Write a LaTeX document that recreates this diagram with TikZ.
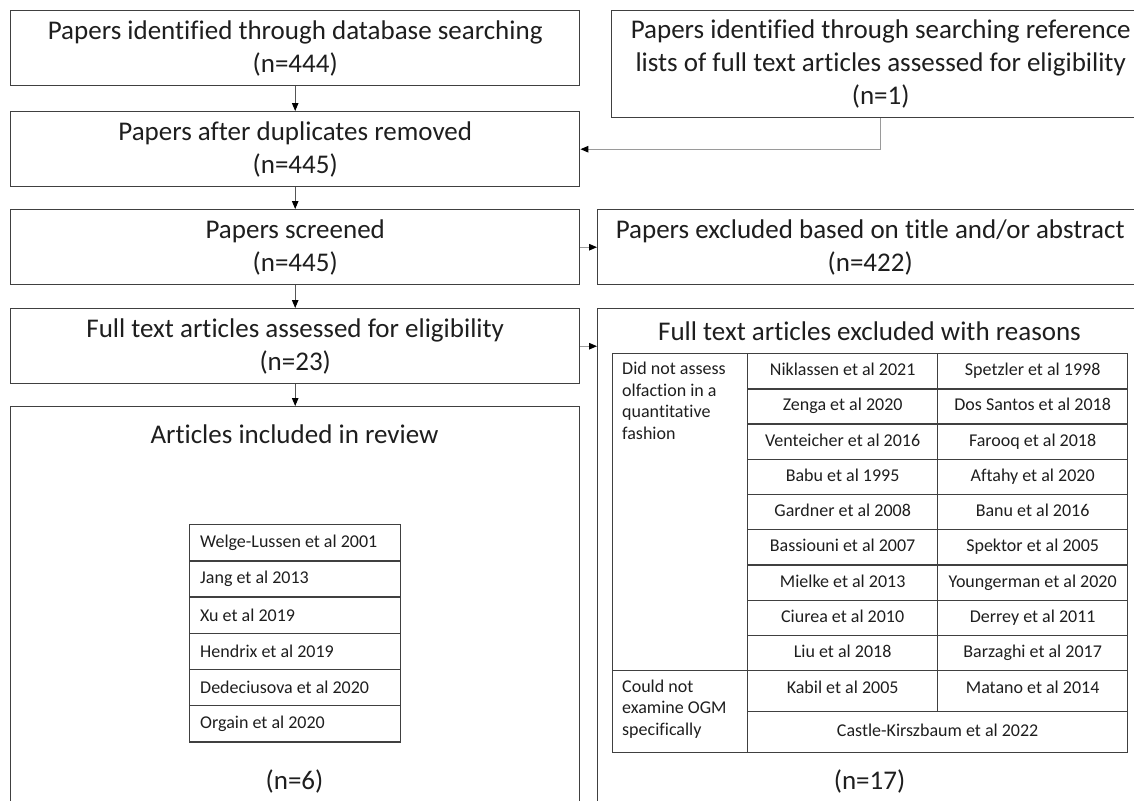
\documentclass[tikz,border=0pt]{standalone}
\usepackage{fontspec}
\setmainfont{Carlito}[Ligatures={NoCommon}]
\usetikzlibrary{arrows.meta}
\definecolor{boxline}{HTML}{404040}
\definecolor{txt}{HTML}{1E1E1E}
\definecolor{conn}{HTML}{9A9A9A}
\definecolor{connd}{HTML}{555555}
\tikzset{
  bigtext/.style={font=\fontsize{27}{33}\selectfont, text=txt, align=center},
  smalltext/.style={font=\fontsize{18}{21.5}\selectfont, text=txt},
  flowbox/.style={draw=boxline, line width=1.4pt, rectangle, anchor=north west, inner sep=0pt, bigtext},
  cellbox/.style={draw=boxline, line width=1.3pt, rectangle, anchor=north west, inner sep=0pt, smalltext, align=center, text height=13pt, text depth=4pt},
  listbox/.style={draw=boxline, line width=1.3pt, rectangle, anchor=north west, inner sep=0pt, minimum width=211pt, minimum height=36.2pt},
  listtext/.style={smalltext, anchor=west, inner sep=0pt},
  arrowd/.style={draw=connd, line width=0.9pt, -{Triangle[length=8pt,width=6.5pt,color=black]}},
  arrowg/.style={draw=conn, line width=1.1pt, -{Triangle[length=8pt,width=6.5pt,color=black]}},
}
\begin{document}
\begin{tikzpicture}[x=1pt,y=-1pt]
\useasboundingbox (0,0) rectangle (1134,800);
\clip (0,0) rectangle (1134,800);
% left column
\node[flowbox, minimum width=569pt, minimum height=75pt] (b1) at (10,10) {Papers identified through database searching\\(n=444)};
\node[flowbox, minimum width=569pt, minimum height=75pt] (b2) at (10,111) {Papers after duplicates removed\\(n=445)};
\node[flowbox, minimum width=569pt, minimum height=75pt] (b3) at (10,209) {Papers screened\\(n=445)};
\node[flowbox, minimum width=569pt, minimum height=75pt] (b4) at (10,308) {Full text articles assessed for eligibility\\(n=23)};
\node[flowbox, minimum width=569pt, minimum height=420pt] (b5) at (10,406) {};
\node[bigtext] (b5title) at (294.5,434) {Articles included in review};
\node[bigtext] (b5n) at (294.5,781) {(n=6)};
% included list
\foreach \i/\t in {0/Welge-Lussen et al 2001, 1/Jang et al 2013, 2/Xu et al 2019,
                   3/Hendrix et al 2019, 4/Dedeciusova et al 2020, 5/Orgain et al 2020}{
  \node[listbox] (l\i) at (189,{524+36.2*\i}) {};
  \node[listtext] (lt\i) at ([xshift=11pt]l\i.west) {\t};
}
% right column
\node[flowbox, minimum width=538pt, minimum height=107pt] (ref) at (611,10) {Papers identified through searching reference\\lists of full text articles assessed for eligibility\\(n=1)};
\node[flowbox, minimum width=545pt, minimum height=75pt] (ex1) at (597,209) {Papers excluded based on title and/or abstract\\(n=422)};
\node[flowbox, minimum width=545pt, minimum height=520pt] (ex2) at (597,308) {};
\node[bigtext] (ex2title) at (869.5,331) {Full text articles excluded with reasons};
\node[bigtext] (ex2n) at (869.5,781) {(n=17)};
% table
\node[draw=boxline, line width=1.3pt, rectangle, anchor=north west, inner sep=0pt, minimum width=135pt, minimum height=317pt] (r1) at (612,353) {};
\node[smalltext, anchor=north west, inner sep=0pt, align=left] (r1t) at (622,362) {Did not assess\\olfaction in a\\quantitative\\fashion};
\foreach \i/\a/\b in {0/Niklassen et al 2021/Spetzler et al 1998,
                      1/Zenga et al 2020/Dos Santos et al 2018,
                      2/Venteicher et al 2016/Farooq et al 2018,
                      3/Babu et al 1995/Aftahy et al 2020,
                      4/Gardner et al 2008/Banu et al 2016,
                      5/Bassiouni et al 2007/Spektor et al 2005,
                      6/Mielke et al 2013/Youngerman et al 2020,
                      7/Ciurea et al 2010/Derrey et al 2011,
                      8/Liu et al 2018/Barzaghi et al 2017}{
  \node[cellbox, minimum width=190pt, minimum height=35.22pt] (ca\i) at (747,{353+35.22*\i}) {\a};
  \node[cellbox, minimum width=190pt, minimum height=35.22pt] (cb\i) at (937,{353+35.22*\i}) {\b};
}
\node[draw=boxline, line width=1.3pt, rectangle, anchor=north west, inner sep=0pt, minimum width=135pt, minimum height=82pt] (r2) at (612,670) {};
\node[smalltext, anchor=west, inner sep=0pt, align=left] (r2t) at (622,709) {Could not\\examine OGM\\specifically};
\node[cellbox, minimum width=190pt, minimum height=41pt, text depth=8pt] (kab) at (747,670) {Kabil et al 2005};
\node[cellbox, minimum width=190pt, minimum height=41pt, text depth=8pt] (mat) at (937,670) {Matano et al 2014};
\node[cellbox, minimum width=380pt, minimum height=41pt] (cas) at (747,711) {Castle-Kirszbaum et al 2022};
% connectors
\draw[arrowd] (b1.south) -- (b2.north);
\draw[arrowd] (b2.south) -- (b3.north);
\draw[arrowd] (b3.south) -- (b4.north);
\draw[arrowd] (b4.south) -- (b5.north);
\draw[arrowg] (ref.south) |- (b2.east);
\draw[arrowg] (b3.east) -- (ex1.west);
\draw[arrowg] (b4.east) -- (b4.east -| ex2.west);
\end{tikzpicture}
\end{document}
